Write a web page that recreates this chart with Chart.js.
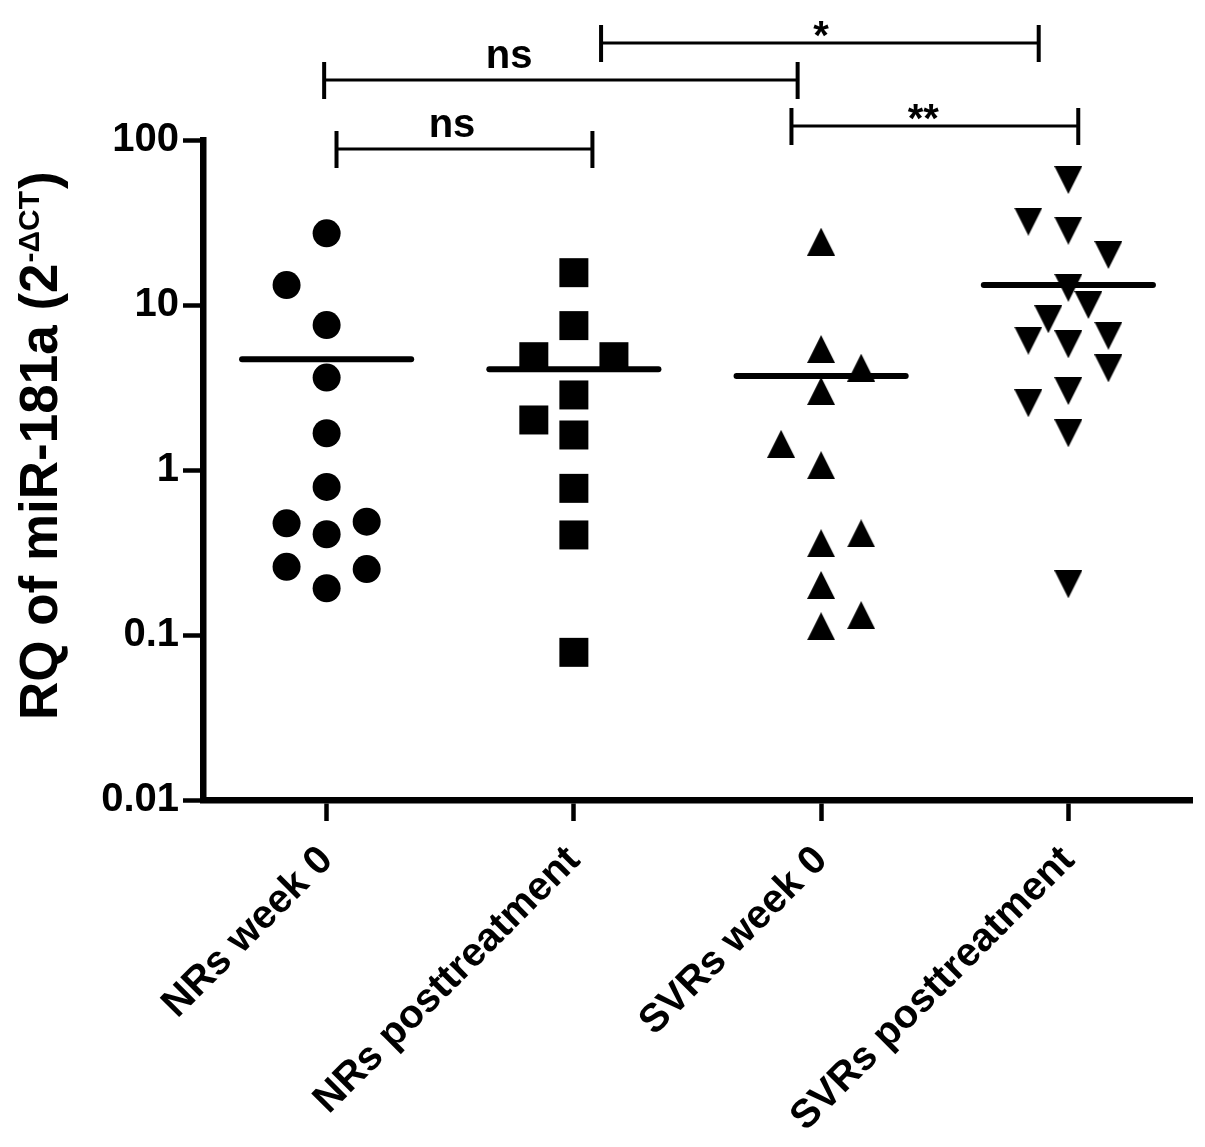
<!DOCTYPE html>
<html>
<head>
<meta charset="utf-8">
<script src="https://cdn.jsdelivr.net/npm/chart.js@4.4.1/dist/chart.umd.min.js"></script>
<style>
  html, body { margin: 0; padding: 0; background: #fff; }
  #wrap { width: 1205px; height: 1147px; }
</style>
</head>
<body>
<div id="wrap"><canvas id="chart" width="1205" height="1147"></canvas></div>
<script>
// groups on the x axis
const categories = ['NRs week 0', 'NRs posttreatment', 'SVRs week 0', 'SVRs posttreatment'];

// RQ values, one array per group
const nrWeek0 = [27.2, 13.2, 7.56, 3.63, 1.67, 0.79, 0.475, 0.408, 0.486, 0.259, 0.251, 0.192];
const nrPost = [15.7, 7.5, 4.86, 4.86, 2.85, 2.01, 1.63, 0.774, 0.404, 0.0785];
const svrWeek0 = [24.2, 5.41, 4.17, 3.01, 1.44, 1.07, 0.413, 0.36, 0.201, 0.132, 0.113];
const svrPost = [57.2, 32.0, 28.2, 20.1, 12.7, 10.0, 8.2, 6.08, 5.78, 6.51, 4.13, 3.01, 2.54, 1.67, 0.203];

// mean line of each group
const groupMeans = [4.69, 4.08, 3.71, 13.2];

// which column each dot sits in (scatter-dot layout, -1 = left, 1 = right)
const nrWeek0Lane = [0, -1, 0, 0, 0, 0, -1, 0, 1, -1, 1, 0];
const nrPostLane = [0, 0, -1, 1, 0, -1, 0, 0, 0, 0];
const svrWeek0Lane = [0, 0, 1, 0, -1, 0, 1, 0, 0, 1, 0];
const svrPostLane = [0, -1, 0, 1, 0, 0.5, -0.5, -1, 0, 1, 1, 0, -1, 0, 0];

// y axis
const yTicks = [0.01, 0.1, 1, 10, 100];
const yTickLabels = ['0.01', '0.1', '1', '10', '100'];

// significance brackets
const bracketLabels = ['ns', 'ns', '*', '**'];
const bracketStart = [0.04, -0.01, 1.11, 1.88];
const bracketEnd = [1.075, 1.905, 2.88, 3.04];
const bracketLabelAt = [0.507, 0.738, 2.0, 2.413];
const bracketRow = [9, -60, -97, -14];   // px from top of plot area

const FONT = '"Liberation Sans", Arial, Helvetica, sans-serif';
const LANE = 0.162;
const MEAN_HALF = 0.342;

function makeTriangle(up) {
  const c = document.createElement('canvas');
  c.width = 28; c.height = 28;
  const g = c.getContext('2d');
  g.fillStyle = '#000';
  g.beginPath();
  if (up) {
    g.moveTo(14, 0); g.lineTo(28, 28); g.lineTo(0, 28);
  } else {
    g.moveTo(0, 0); g.lineTo(28, 0); g.lineTo(14, 28);
  }
  g.closePath();
  g.fill();
  return c;
}

function points(values, lanes, group) {
  return values.map((v, i) => ({ x: group + lanes[i] * LANE, y: v }));
}

function dotSet(values, lanes, group, style, radius) {
  return {
    type: 'scatter',
    data: points(values, lanes, group),
    pointStyle: style,
    pointRadius: radius,
    pointHoverRadius: radius,
    backgroundColor: '#000',
    borderColor: '#000',
    borderWidth: 0,
    clip: false
  };
}

const meanSets = groupMeans.map((m, g) => ({
  type: 'line',
  data: [{ x: g - MEAN_HALF, y: m }, { x: g + MEAN_HALF, y: m }],
  borderColor: '#000',
  borderWidth: 6,
  borderCapStyle: 'round',
  pointRadius: 0,
  fill: false,
  clip: false
}));

const yTitle = {
  id: 'yTitle',
  afterDraw(chart) {
    const ctx = chart.ctx;
    ctx.save();
    ctx.translate(57, 720);
    ctx.rotate(-Math.PI / 2);
    ctx.fillStyle = '#000';
    ctx.textAlign = 'left';
    ctx.textBaseline = 'alphabetic';
    ctx.font = 'bold 53px ' + FONT;
    const main = 'RQ of miR-181a (2';
    ctx.fillText(main, 0, 0);
    let w = ctx.measureText(main).width + 1;
    ctx.font = 'bold 30px ' + FONT;
    ctx.fillText('-ΔCT', w, -18);
    w += ctx.measureText('-ΔCT').width + 2;
    ctx.font = 'bold 53px ' + FONT;
    ctx.fillText(')', w, 0);
    ctx.restore();
  }
};

const brackets = {
  id: 'brackets',
  afterDraw(chart) {
    const { ctx, chartArea } = chart;
    const x = chart.scales.x;
    ctx.save();
    ctx.strokeStyle = '#000';
    ctx.fillStyle = '#000';
    ctx.font = 'bold 40px ' + FONT;
    ctx.textAlign = 'center';
    ctx.textBaseline = 'alphabetic';
    bracketLabels.forEach((label, i) => {
      const x1 = x.getPixelForValue(bracketStart[i]);
      const x2 = x.getPixelForValue(bracketEnd[i]);
      const yy = chartArea.top + bracketRow[i];
      ctx.lineWidth = 3;
      ctx.beginPath();
      ctx.moveTo(x1, yy);
      ctx.lineTo(x2, yy);
      ctx.stroke();
      ctx.lineWidth = 4;
      ctx.beginPath();
      ctx.moveTo(x1, yy - 18); ctx.lineTo(x1, yy + 19);
      ctx.moveTo(x2, yy - 18); ctx.lineTo(x2, yy + 19);
      ctx.stroke();
      const star = label.charAt(0) === '*';
      ctx.fillText(label, x.getPixelForValue(bracketLabelAt[i]), star ? yy + 6 : yy - 12);
    });
    ctx.restore();
  }
};

new Chart(document.getElementById('chart'), {
  data: {
    datasets: [
      dotSet(nrWeek0, nrWeek0Lane, 0, 'circle', 14),
      dotSet(nrPost, nrPostLane, 1, 'rect', 20.5),
      dotSet(svrWeek0, svrWeek0Lane, 2, makeTriangle(true), 14),
      dotSet(svrPost, svrPostLane, 3, makeTriangle(false), 14),
      ...meanSets
    ]
  },
  options: {
    responsive: false,
    devicePixelRatio: 1,
    animation: false,
    events: [],
    layout: { autoPadding: false, padding: { top: 140, right: 13, left: 0, bottom: 0 } },
    plugins: {
      legend: { display: false },
      tooltip: { enabled: false },
      title: { display: false }
    },
    scales: {
      x: {
        type: 'linear',
        min: -0.5,
        max: 3.5,
        afterFit(scale) {
          scale.height = 347;
          scale.paddingLeft = 0;
          scale.paddingRight = 0;
        },
        afterBuildTicks(scale) { scale.ticks = categories.map((c, i) => ({ value: i })); },
        border: { display: true, width: 6.5, color: '#000' },
        grid: { drawOnChartArea: false, drawTicks: true, tickLength: 21, tickWidth: 4.5, tickColor: '#000' },
        ticks: {
          autoSkip: false,
          minRotation: 45,
          maxRotation: 45,
          padding: 16,
          color: '#000',
          font: { family: FONT, size: 40, weight: 'bold' },
          callback: (v) => categories[v]
        }
      },
      y: {
        type: 'logarithmic',
        min: 0.01,
        max: 100,
        afterFit(scale) {
          scale.width = 203;
          scale.paddingTop = 0;
          scale.paddingBottom = 0;
        },
        afterBuildTicks(scale) { scale.ticks = yTicks.map(v => ({ value: v })); },
        border: { display: true, width: 6.5, color: '#000' },
        grid: { drawOnChartArea: false, drawTicks: true, tickLength: 20, tickWidth: 4.5, tickColor: '#000' },
        ticks: {
          padding: 4,
          color: '#000',
          font: { family: FONT, size: 40, weight: 'bold' },
          callback: (v, i) => yTickLabels[i]
        }
      }
    }
  },
  plugins: [yTitle, brackets]
});
</script>
</body>
</html>
